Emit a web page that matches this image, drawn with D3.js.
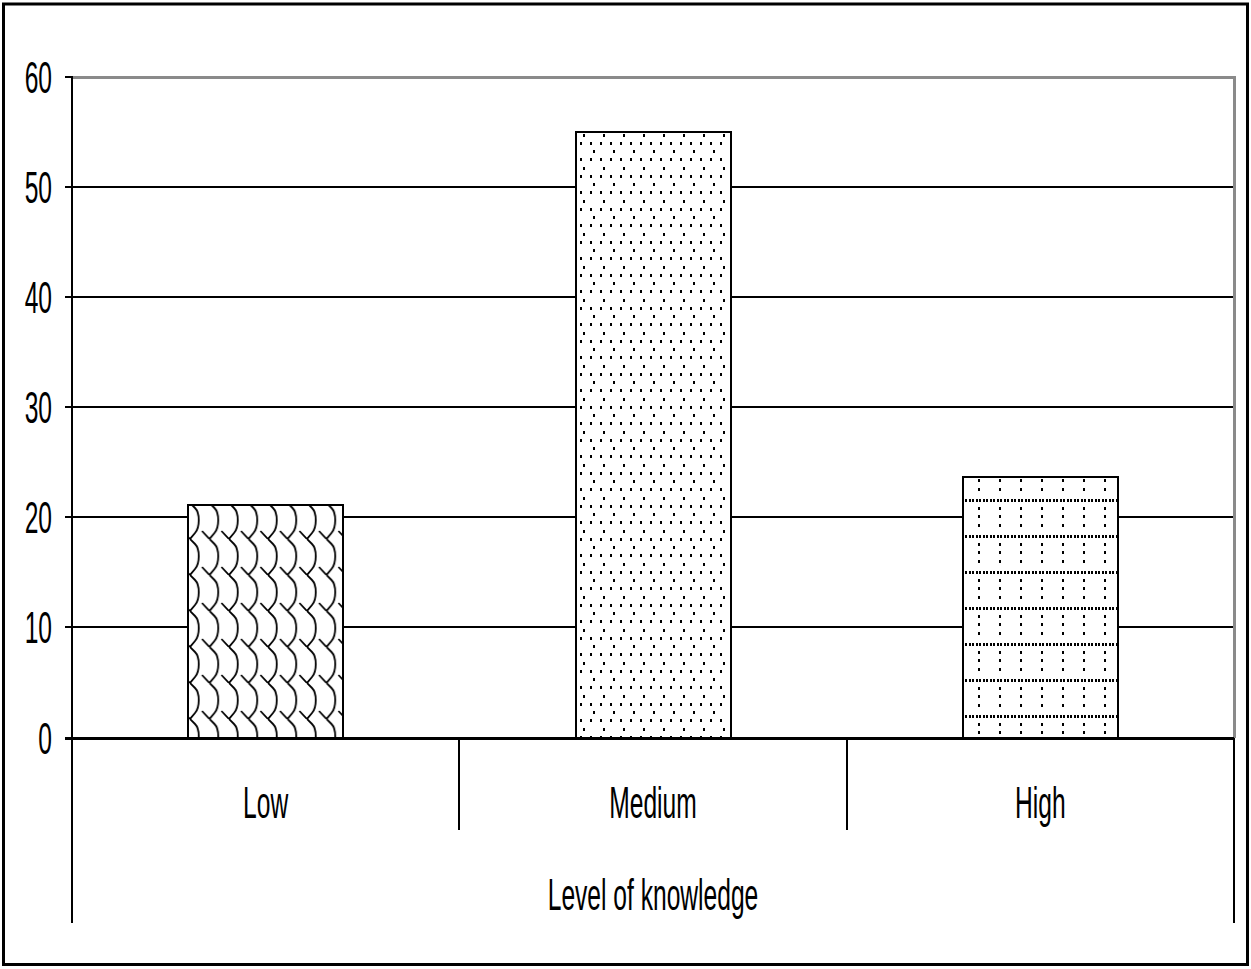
<!DOCTYPE html>
<html>
<head>
<meta charset="utf-8">
<script src="https://cdn.jsdelivr.net/npm/d3@7"></script>
<style>
  html, body { margin: 0; padding: 0; background: #fff; }
  svg { display: block; }
  text { font-family: "Liberation Sans", Arial, sans-serif; fill: #000; }
</style>
</head>
<body>
<svg id="chart" width="1251" height="969"></svg>
<script>
// ---- data ----
const categories = ["Low", "Medium", "High"];
const values = [21.1, 55.0, 23.7];
const yTicks = [0, 10, 20, 30, 40, 50, 60];
const yTickLabels = ["0", "10", "20", "30", "40", "50", "60"];
const axisTitle = "Level of knowledge";
const patternIds = ["patLow", "patMedium", "patHigh"];

// ---- layout ----
const plot = { left: 72, right: 1234, top: 77, bottom: 737.5 };
const catTickBottom = 830, outerTickBottom = 923;
const textScale = "scale(0.82,1.45)";

const svg = d3.select("#chart");
const defs = svg.append("defs");

const x = d3.scaleBand().domain(categories).range([plot.left, plot.right]).padding(0);
const y = d3.scaleLinear().domain([0, 60]).range([plot.bottom, plot.top]);
const barFrac = 0.4;
const ry = v => Math.round(y(v));

// outer border
svg.append("rect")
  .attr("x", 3.5).attr("y", 4).attr("width", 1244).attr("height", 960.5)
  .attr("fill", "#fff").attr("stroke", "#000").attr("stroke-width", 3);

// ---- patterns ----
function barLeft(c) { return Math.round(x(c) + x.bandwidth() * (1 - barFrac) / 2); }

// Low: scale/wave pattern
(function () {
  const c = categories[0], v = values[0];
  const p = defs.append("pattern").attr("id", patternIds[0])
    .attr("patternUnits", "userSpaceOnUse")
    .attr("x", barLeft(c) + 2).attr("y", ry(v) - 2)
    .attr("width", 19.5).attr("height", 36);
  p.append("rect").attr("width", 19.5).attr("height", 36).attr("fill", "#fff");
  p.append("path")
    .attr("d", "M0,0 L5,5 C10,10 10,24 5,30 L0,36 M12,28 L19.5,36 M19.5,0 L24.5,5")
    .attr("fill", "none").attr("stroke", "#000").attr("stroke-width", 1.8);
})();

// Medium: dotted pattern
(function () {
  const c = categories[1], v = values[1];
  const pw = 20, ph = 33;
  const p = defs.append("pattern").attr("id", patternIds[1])
    .attr("patternUnits", "userSpaceOnUse")
    .attr("x", barLeft(c)).attr("y", ry(v) + 10)
    .attr("width", pw).attr("height", ph);
  p.append("rect").attr("width", pw).attr("height", ph).attr("fill", "#fff");
  const dots = [[4, 0], [14, 0], [17, 8], [4, 16], [14, 16], [7, 25]];
  dots.forEach(d => p.append("rect").attr("x", d[0]).attr("y", d[1]).attr("width", 2).attr("height", 3)
    .attr("fill", "#000").attr("shape-rendering", "crispEdges"));
})();

// High: dotted grid pattern
(function () {
  const c = categories[2], v = values[2];
  const pw = 21, ph = 36;
  const p = defs.append("pattern").attr("id", patternIds[2])
    .attr("patternUnits", "userSpaceOnUse")
    .attr("x", barLeft(c) - 5).attr("y", ry(v) + 22)
    .attr("width", pw).attr("height", ph);
  p.append("rect").attr("width", pw).attr("height", ph).attr("fill", "#fff");
  for (let i = 0; i < 6; i++) {
    p.append("rect").attr("x", i * 3.5).attr("y", 0).attr("width", 2).attr("height", 3)
      .attr("fill", "#000").attr("shape-rendering", "crispEdges");
  }
  [8, 16, 25].forEach(dy => {
    p.append("rect").attr("x", 20).attr("y", dy).attr("width", 2).attr("height", 3)
      .attr("fill", "#000").attr("shape-rendering", "crispEdges");
    p.append("rect").attr("x", -1).attr("y", dy).attr("width", 2).attr("height", 3)
      .attr("fill", "#000").attr("shape-rendering", "crispEdges");
  });
})();

// ---- gridlines ----
svg.append("g").attr("shape-rendering", "crispEdges").selectAll("line")
  .data(yTicks.filter(t => t > 0 && t < 60))
  .join("line")
  .attr("x1", plot.left).attr("x2", plot.right)
  .attr("y1", d => ry(d)).attr("y2", d => ry(d))
  .attr("stroke", "#000").attr("stroke-width", 2);

// plot area border (top + right, gray)
svg.append("path")
  .attr("d", `M${plot.left},${ry(60)} L${plot.right},${ry(60)} L${plot.right},${ry(0)}`)
  .attr("fill", "none").attr("stroke", "#8a8a8a").attr("stroke-width", 3)
  .attr("shape-rendering", "crispEdges");

// ---- bars ----
svg.append("g").attr("shape-rendering", "crispEdges").selectAll("rect")
  .data(categories)
  .join("rect")
  .attr("x", d => barLeft(d))
  .attr("y", (d, i) => ry(values[i]))
  .attr("width", Math.round(x.bandwidth() * barFrac))
  .attr("height", (d, i) => ry(0) - ry(values[i]))
  .attr("fill", (d, i) => `url(#${patternIds[i]})`)
  .attr("stroke", "#000").attr("stroke-width", 2);

// ---- y axis ----
const yAxis = d3.axisLeft(y).tickValues(yTicks).tickSize(7).tickFormat("");
const gy = svg.append("g").attr("transform", `translate(${plot.left},0)`).call(yAxis);
gy.select(".domain").remove();
gy.selectAll(".tick").attr("transform", d => `translate(0,${ry(d)})`);
gy.selectAll(".tick line").attr("stroke", "#000").attr("stroke-width", 2).attr("shape-rendering", "crispEdges");

svg.append("line")
  .attr("x1", plot.left).attr("x2", plot.left)
  .attr("y1", ry(60) - 1).attr("y2", outerTickBottom)
  .attr("stroke", "#000").attr("stroke-width", 2).attr("shape-rendering", "crispEdges");

// zero baseline
svg.append("line")
  .attr("x1", plot.left - 7).attr("x2", plot.right)
  .attr("y1", ry(0)).attr("y2", ry(0))
  .attr("stroke", "#000").attr("stroke-width", 3).attr("shape-rendering", "crispEdges");

// y tick labels
svg.append("g").selectAll("g")
  .data(yTicks)
  .join("g")
  .attr("transform", d => `translate(52,${ry(d) + 16}) ${textScale}`)
  .append("text")
  .attr("text-anchor", "end")
  .attr("font-size", 30)
  .text((d, i) => yTickLabels[i]);

// ---- category axis ----
svg.append("g").attr("shape-rendering", "crispEdges").selectAll("line")
  .data(categories.slice(1))
  .join("line")
  .attr("x1", d => Math.round(x(d))).attr("x2", d => Math.round(x(d)))
  .attr("y1", ry(0)).attr("y2", catTickBottom)
  .attr("stroke", "#000").attr("stroke-width", 1.5);

svg.append("line")
  .attr("x1", plot.right).attr("x2", plot.right)
  .attr("y1", ry(0)).attr("y2", outerTickBottom)
  .attr("stroke", "#000").attr("stroke-width", 2).attr("shape-rendering", "crispEdges");

svg.append("g").selectAll("g")
  .data(categories)
  .join("g")
  .attr("transform", d => `translate(${x(d) + x.bandwidth() / 2},818) ${textScale}`)
  .append("text")
  .attr("text-anchor", "middle")
  .attr("font-size", 30)
  .text(d => d);

svg.append("g")
  .attr("transform", `translate(${(plot.left + plot.right) / 2},910) ${textScale}`)
  .append("text")
  .attr("text-anchor", "middle")
  .attr("font-size", 30)
  .text(axisTitle);
</script>
</body>
</html>
